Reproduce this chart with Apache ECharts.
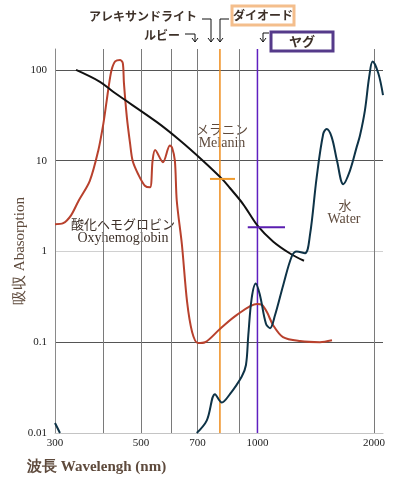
<!DOCTYPE html>
<html><head><meta charset="utf-8">
<script src="https://cdn.jsdelivr.net/npm/echarts@6/dist/echarts.min.js"></script>
<style>html,body{margin:0;padding:0;background:#fff}#c{width:393px;height:491px}</style>
</head><body><div id="c"></div>
<script>
// Oxyhemoglobin
const hbWavelength = [300,315,330,345,369,388,400,408,414,420,429,442,449,452,460,469,476,492,512,528,536,544,570,594,602,612,619,638,658,678,702,732,800,885,997,1027,1058,1097,1164,1288,1450,1558];
const hbAbsorption = [2.0,2.05,2.5,3.6,6.0,12.9,25.6,46,71,100,124,129,119,72,30,15.3,10,7.1,5.3,5.1,10,13.1,9.6,14.7,13.9,10,3.6,1.2,0.28,0.13,0.098,0.1,0.14,0.2,0.264,0.258,0.215,0.155,0.114,0.103,0.1,0.105];
// Melanin
const melaninWavelength = [340,392,424,550,631,723,810,849,918,1003,1097,1214,1319];
const melaninAbsorption = [100,74,57.4,26.6,16.7,10,6.3,5.0,3.33,1.9,1.29,0.95,0.79];
// Water ('-' = gap below the axis)
const waterWavelength = [300,309,500,697,740,777,809,849,911,934,947,966,990,1015,1052,1078,1110,1166,1226,1263,1327,1367,1422,1479,1509,1555,1605,1666,1733,1804,1840,1895,1944,1984,2052,2110];
const waterAbsorption = [0.0129,0.01,'-',0.01,0.0138,0.0268,0.0217,0.0268,0.042,0.0561,0.119,0.303,0.444,0.33,0.16,0.143,0.198,0.427,0.88,1.0,0.957,1.53,6.52,19.8,22.3,18.2,10,5.51,7.74,14.1,18.9,35.9,84.3,123.6,91.9,52.7];
// Lasers
const diodeWavelength = 800;
const yagWavelength = 1000;
const diodeCrossWavelength = [754, 875];
const diodeCrossAbsorption = 6.3;
const yagCrossWavelength = [944, 1178];
const yagCrossAbsorption = 1.85;
// Axes
const xMin = 300, xMax = 2110;
const yMin = 0.01, yMax = 170;
const xGridValues = [300,400,500,600,700,900,1000,2000];
const xLabelValues = [300,500,700,1000,2000];
const yGridValues = [0.01,0.1,1,10,100];

const zip = (xs, ys) => xs.map((x, i) => [x, ys[i]]);
const fmt = v => String(+Number(v).toPrecision(6));
const SERIF = '"Liberation Serif","DejaVu Serif",serif';
const JP = '"Noto Sans CJK JP",sans-serif';
const BROWN = '#5e4a3c';
const DARK = '#3e3129';

const chart = echarts.init(document.getElementById('c'), null, {renderer: 'canvas'});

function arrow(points, tipX, tipY) {
  return [
    {type: 'polyline', shape: {points: points}, style: {stroke: '#111', lineWidth: 1, fill: null}, silent: true},
    {type: 'polyline', shape: {points: [[tipX - 3, tipY - 4], [tipX, tipY], [tipX + 3, tipY - 4]]}, style: {stroke: '#111', lineWidth: 1, fill: null}, silent: true}
  ];
}

const graphics = [
  {type: 'text', x: 197, y: 16, style: {text: 'アレキサンドライト', font: 'bold 12px ' + JP, fill: DARK, align: 'right', verticalAlign: 'middle'}},
  {type: 'text', x: 180, y: 35, style: {text: 'ルビー', font: 'bold 12px ' + JP, fill: DARK, align: 'right', verticalAlign: 'middle'}},
  {type: 'rect', shape: {x: 232, y: 6, width: 62, height: 19}, style: {stroke: '#f4be8c', lineWidth: 3, fill: '#fff'}},
  {type: 'text', x: 263, y: 15.5, style: {text: 'ダイオード', font: 'bold 12px ' + JP, fill: DARK, align: 'center', verticalAlign: 'middle'}},
  {type: 'rect', shape: {x: 271, y: 32, width: 62, height: 19}, style: {stroke: '#553a8a', lineWidth: 3, fill: '#fff'}},
  {type: 'text', x: 302, y: 41.5, style: {text: 'ヤグ', font: 'bold 13px ' + JP, fill: DARK, align: 'center', verticalAlign: 'middle'}},
  ...arrow([[202, 19], [211, 19], [211, 42]], 211, 42),
  ...arrow([[229, 19], [220, 19], [220, 42]], 220, 42),
  ...arrow([[185, 34], [195, 34], [195, 42]], 195, 42),
  ...arrow([[269, 33], [263, 33], [263, 42]], 263, 42),
  {type: 'text', x: 222, y: 129, style: {text: 'メラニン', font: '13px ' + JP, fill: BROWN, align: 'center', verticalAlign: 'middle'}},
  {type: 'text', x: 222, y: 143, style: {text: 'Melanin', font: '14px ' + SERIF, fill: BROWN, align: 'center', verticalAlign: 'middle'}},
  {type: 'text', x: 123, y: 224, style: {text: '酸化ヘモグロビン', font: '13px ' + JP, fill: DARK, align: 'center', verticalAlign: 'middle'}},
  {type: 'text', x: 123, y: 238, style: {text: 'Oxyhemoglobin', font: '14px ' + SERIF, fill: DARK, align: 'center', verticalAlign: 'middle'}},
  {type: 'text', x: 345, y: 205, style: {text: '水', font: '13px ' + JP, fill: BROWN, align: 'center', verticalAlign: 'middle'}},
  {type: 'text', x: 344, y: 219, style: {text: 'Water', font: '14px ' + SERIF, fill: BROWN, align: 'center', verticalAlign: 'middle'}},
  {type: 'text', x: 20, y: 251, rotation: Math.PI / 2, style: {text: '吸収 Abasorption', font: '15px ' + SERIF, fill: BROWN, align: 'center', verticalAlign: 'middle'}},
  {type: 'text', x: 27, y: 467, style: {text: '波長 Wavelengh (nm)', font: 'bold 15px ' + SERIF, fill: BROWN, align: 'left', verticalAlign: 'middle'}}
];

const lineBase = {type: 'line', showSymbol: false, symbol: 'none', silent: true, animation: false};

chart.setOption({
  animation: false,
  backgroundColor: '#fff',
  grid: {left: 55, right: 10, top: 49, bottom: 58, containLabel: false},
  xAxis: {
    type: 'log', logBase: 10, min: xMin, max: xMax,
    axisLine: {show: true, lineStyle: {color: '#c4c4c4', width: 1}},
    axisTick: {show: false, customValues: xGridValues},
    axisLabel: {customValues: xLabelValues, formatter: fmt, color: '#222', fontFamily: SERIF, fontSize: 11, margin: 5},
    splitLine: {show: true, lineStyle: {color: '#7a7a7a', width: 1}},
    minorTick: {show: false}, minorSplitLine: {show: false}
  },
  yAxis: {
    type: 'log', logBase: 10, min: yMin, max: yMax,
    axisLine: {show: true, lineStyle: {color: '#8a8a8a', width: 1}},
    axisTick: {show: false, customValues: yGridValues},
    axisLabel: {customValues: yGridValues, formatter: fmt, color: '#222', fontFamily: SERIF, fontSize: 11, margin: 8},
    splitLine: {show: true, lineStyle: {color: ['#c4c4c4', '#555', '#d0d0d0', '#555', '#555'], width: 1}}
  },
  graphic: graphics,
  series: [
    Object.assign({}, lineBase, {name: 'diode', data: [[diodeWavelength, yMin], [diodeWavelength, yMax]], lineStyle: {color: '#ef8d1c', width: 1.5}, z: 3}),
    Object.assign({}, lineBase, {name: 'yag', data: [[yagWavelength, yMin], [yagWavelength, yMax]], lineStyle: {color: '#5f1fc0', width: 1.5}, z: 3}),
    Object.assign({}, lineBase, {name: 'oxyhemoglobin', data: zip(hbWavelength, hbAbsorption), smooth: 0.3, lineStyle: {color: '#b8412d', width: 2}, z: 4}),
    Object.assign({}, lineBase, {name: 'melanin', data: zip(melaninWavelength, melaninAbsorption), smooth: 0.35, lineStyle: {color: '#111', width: 2}, z: 4}),
    Object.assign({}, lineBase, {name: 'water', data: zip(waterWavelength, waterAbsorption), smooth: 0.35, connectNulls: false, lineStyle: {color: '#0e3347', width: 2}, z: 4}),
    Object.assign({}, lineBase, {name: 'diodeCross', data: diodeCrossWavelength.map(w => [w, diodeCrossAbsorption]), lineStyle: {color: '#f09a2a', width: 2}, z: 5}),
    Object.assign({}, lineBase, {name: 'yagCross', data: yagCrossWavelength.map(w => [w, yagCrossAbsorption]), lineStyle: {color: '#5a1eb0', width: 2}, z: 5})
  ]
});
</script>
</body></html>
